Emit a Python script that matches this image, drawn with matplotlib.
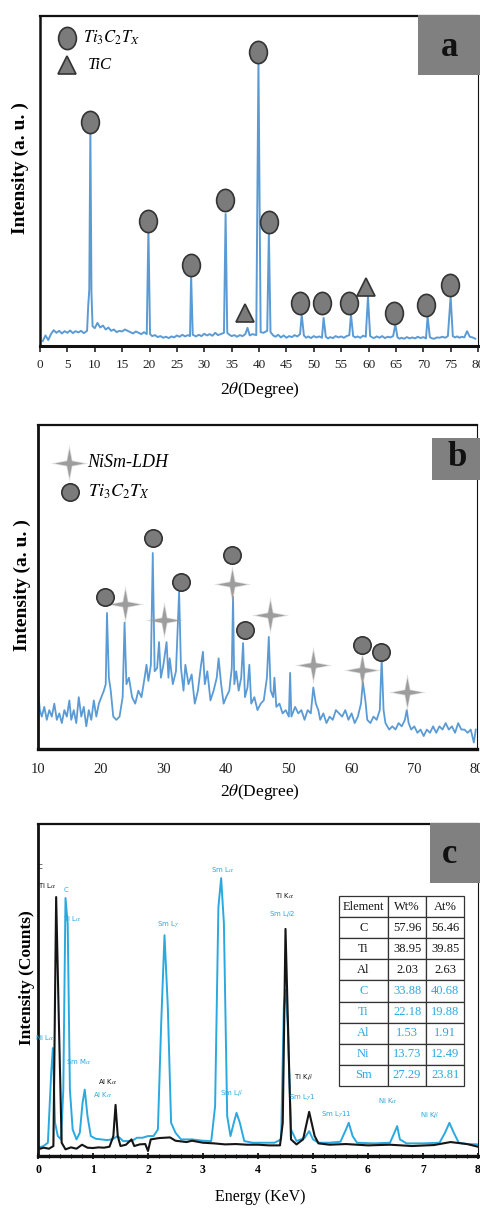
import matplotlib
matplotlib.use('Agg')
import matplotlib.pyplot as plt
from matplotlib.path import Path
from matplotlib.patches import Rectangle
from matplotlib.ticker import MultipleLocator

plt.rcParams['font.family'] = ['Liberation Serif', 'DejaVu Serif']
plt.rcParams['mathtext.fontset'] = 'stix'

# ---------------- data ----------------
# (a) XRD of Ti3C2Tx
a_theta = [0.5, 1.0, 1.5, 2.0, 2.5, 3.0, 3.5, 4.0, 4.5, 5.0, 5.5, 6.0, 6.5, 7.0, 7.5, 8.0, 8.6, 8.8, 9.0, 9.2,
           9.4, 9.6, 10.0, 10.5, 11.0, 11.5, 12.0, 12.5, 13.0, 13.5, 14.0, 14.5, 15.0, 15.5, 16.0, 16.5, 17.0,
           17.5, 18.0, 18.5, 19.0, 19.5, 19.8, 20.1, 20.5, 21.0, 21.5, 22.0, 22.5, 23.0, 23.5, 24.0, 24.5, 25.0,
           25.5, 26.0, 26.5, 27.0, 27.4, 27.6, 27.9, 28.5, 29.0, 29.5, 30.0, 30.5, 31.0, 31.5, 32.0, 32.5, 33.0,
           33.6, 33.9, 34.2, 34.6, 35.0, 35.5, 36.0, 36.5, 37.0, 37.5, 37.9, 38.3, 38.8, 39.5, 39.9, 40.3, 40.8,
           41.5, 41.8, 42.1, 42.6, 43.0, 43.5, 44.0, 44.5, 45.0, 45.5, 46.0, 46.5, 47.0, 47.5, 47.8, 48.2, 48.6,
           49.0, 49.5, 50.0, 50.5, 51.0, 51.5, 51.8, 52.2, 52.6, 53.0, 53.5, 54.0, 54.5, 55.0, 55.5, 56.0, 56.5,
           56.8, 57.2, 57.6, 58.0, 58.5, 59.0, 59.5, 59.9, 60.3, 60.7, 61.0, 61.5, 62.0, 62.5, 63.0, 63.5, 64.0,
           64.5, 64.9, 65.3, 65.7, 66.0, 66.5, 67.0, 67.5, 68.0, 68.5, 69.0, 69.5, 70.0, 70.5, 70.8, 71.2, 71.6,
           72.0, 72.5, 73.0, 73.5, 74.0, 74.5, 75.0, 75.4, 75.8, 76.2, 76.6, 77.0, 77.5, 78.0, 78.5, 79.0, 79.5]
a_intensity = [1.5, 3.2, 1.8, 3.6, 4.8, 4.0, 4.6, 3.8, 4.5, 4.0, 4.7, 3.9, 4.5, 4.1, 4.6, 3.9, 4.6, 12.0, 17.0, 65.5,
               16.0, 6.0, 5.4, 7.0, 5.6, 6.2, 5.0, 5.6, 4.6, 5.0, 4.2, 4.6, 4.4, 5.0, 4.6, 4.2, 3.8, 4.4, 4.0, 3.6,
               4.2, 3.6, 35.5, 3.6, 3.0, 3.3, 2.7, 3.0, 2.5, 2.8, 2.4, 2.9, 2.6, 3.2, 2.8, 3.4, 2.9, 3.3, 3.0, 21.5,
               3.4, 2.9, 3.4, 3.0, 3.7, 3.2, 3.6, 3.1, 4.0, 3.3, 3.6, 4.0, 40.0, 4.0, 3.4, 3.0, 3.3, 2.8, 3.3, 3.0,
               3.6, 5.5, 3.2, 3.6, 3.3, 86.0, 4.2, 4.0, 4.6, 34.5, 4.2, 3.2, 2.8, 3.4, 2.6, 3.2, 2.5, 3.0, 2.7, 3.3,
               2.9, 3.6, 9.5, 3.2, 2.5, 2.9, 2.4, 3.0, 2.6, 2.9, 2.5, 8.5, 2.8, 2.3, 2.7, 2.4, 3.0, 2.6, 2.9, 2.5,
               3.0, 3.3, 9.5, 3.0, 2.6, 2.9, 2.5, 3.1, 2.8, 15.0, 3.0, 2.6, 2.4, 2.9, 2.5, 3.0, 2.4, 2.8, 2.6, 3.0,
               6.5, 2.6, 2.2, 2.5, 2.2, 2.7, 2.3, 2.6, 2.3, 2.8, 2.4, 2.7, 2.3, 9.0, 2.7, 2.3, 2.2, 2.6, 2.5, 2.8,
               2.5, 3.0, 15.0, 3.0, 2.6, 2.9, 2.5, 2.8, 2.6, 4.5, 2.8, 2.6, 2.2]
a_circle_x = [9.1, 19.7, 27.6, 33.8, 39.8, 41.8, 47.4, 51.5, 56.4, 64.6, 70.5, 74.8]
a_circle_y = [68.0, 38.0, 24.5, 44.2, 89.0, 37.6, 13.0, 13.0, 13.0, 10.0, 12.4, 18.5]
a_tri_x = [37.5, 59.6]
a_tri_y = [10.0, 17.9]

# (b) XRD of NiSm-LDH / Ti3C2Tx
b_theta = [10.0, 10.3, 10.6, 11.0, 11.4, 11.8, 12.2, 12.6, 13.0, 13.4, 13.8, 14.2, 14.6, 15.0, 15.3, 15.7, 16.1,
           16.5, 16.9, 17.3, 17.7, 18.1, 18.5, 18.9, 19.3, 19.7, 20.1, 20.5, 20.8, 21.0, 21.3, 21.6, 22.0, 22.5,
           23.0, 23.5, 23.8, 24.1, 24.5, 25.0, 25.5, 26.0, 26.5, 27.0, 27.3, 27.6, 28.0, 28.3, 28.6, 29.0, 29.3,
           29.6, 30.0, 30.5, 30.8, 31.0, 31.5, 32.0, 32.5, 32.8, 33.2, 33.5, 34.0, 34.5, 35.0, 35.5, 36.0, 36.3,
           36.6, 37.0, 37.5, 38.0, 38.5, 38.8, 39.2, 39.6, 40.0, 40.5, 40.9, 41.1, 41.3, 41.6, 42.0, 42.4, 42.7,
           43.0, 43.4, 43.7, 44.0, 44.5, 45.0, 45.5, 46.0, 46.5, 46.8, 47.1, 47.5, 47.7, 48.0, 48.5, 49.0, 49.5,
           50.0, 50.2, 50.4, 51.0, 51.5, 52.0, 52.5, 53.0, 53.5, 53.9, 54.3, 54.7, 55.0, 55.5, 56.0, 56.5, 57.0,
           57.5, 58.0, 58.5, 59.0, 59.5, 60.0, 60.5, 61.0, 61.5, 61.8, 62.2, 62.5, 63.0, 63.5, 64.0, 64.5, 64.8,
           65.1, 65.4, 66.0, 66.5, 67.0, 67.5, 68.0, 68.5, 68.8, 69.1, 69.5, 70.0, 70.5, 71.0, 71.5, 72.0, 72.5,
           73.0, 73.5, 74.0, 74.5, 75.0, 75.5, 76.0, 76.5, 77.0, 77.5, 78.0, 78.5, 79.0, 79.5, 79.8]
b_intensity = [18.0, 12.0, 10.0, 13.0, 9.0, 12.0, 10.0, 14.0, 9.0, 11.0, 8.0, 12.0, 10.0, 15.0, 9.0, 12.0, 8.0,
               16.0, 10.0, 13.0, 7.0, 12.0, 9.0, 15.0, 10.0, 14.0, 16.0, 18.0, 20.0, 42.0, 22.0, 18.0, 10.0, 9.0,
               10.0, 16.0, 39.0, 20.0, 22.0, 16.0, 14.0, 18.0, 16.0, 22.0, 26.0, 21.0, 26.0, 60.5, 24.0, 25.0, 33.0,
               22.0, 26.0, 33.0, 22.0, 28.0, 20.0, 24.0, 48.5, 25.0, 18.0, 26.0, 20.0, 23.0, 14.0, 18.0, 26.0, 30.0,
               20.0, 24.0, 15.0, 18.0, 22.0, 28.0, 20.0, 14.0, 16.0, 18.0, 25.0, 47.0, 20.0, 24.0, 18.0, 22.0, 32.7,
               16.0, 19.0, 26.0, 14.0, 16.0, 12.0, 14.0, 15.0, 22.0, 34.6, 18.0, 16.0, 22.0, 13.0, 14.0, 11.0, 12.0,
               10.0, 23.5, 10.0, 13.0, 11.0, 12.0, 9.0, 12.0, 11.0, 19.0, 14.0, 12.0, 9.0, 11.0, 8.0, 10.0, 9.0,
               12.0, 11.0, 10.0, 12.0, 9.0, 11.0, 8.0, 10.0, 14.0, 20.7, 15.0, 9.0, 8.0, 10.0, 9.0, 12.0, 28.0,
               12.0, 8.0, 6.0, 7.0, 6.0, 8.0, 7.0, 9.0, 12.0, 8.0, 6.0, 7.0, 5.0, 6.0, 4.0, 6.0, 5.0,
               7.0, 5.0, 7.0, 6.0, 8.0, 6.0, 7.0, 5.0, 8.0, 6.0, 6.0, 5.0, 6.0, 2.0, 6.0]
b_circle_x = [20.7, 28.3, 32.8, 40.9, 43.0, 61.6, 64.7]
b_circle_y = [47.0, 65.0, 51.5, 60.0, 36.7, 32.0, 30.0]
b_star_x = [23.9, 30.1, 40.9, 47.0, 53.9, 61.6, 68.8]
b_star_y = [44.8, 39.8, 51.0, 41.4, 26.0, 24.4, 17.6]

# (c) EDS spectra
c_energy_black = [0.0, 0.1, 0.2, 0.28, 0.33, 0.38, 0.43, 0.5, 0.6, 0.7, 0.8, 0.9, 1.0, 1.1, 1.2, 1.3, 1.37, 1.41,
                  1.45, 1.5, 1.6, 1.7, 1.75, 1.85, 1.95, 2.0, 2.05, 2.2, 2.4, 2.5, 2.7, 2.8, 3.0, 3.2, 3.4, 3.6,
                  3.8, 4.0, 4.2, 4.4, 4.45, 4.5, 4.56, 4.6, 4.7, 4.82, 4.93, 5.03, 5.1, 5.3, 5.6, 6.0, 6.4, 6.8,
                  7.2, 7.5, 7.8, 8.0]
c_counts_black = [2.0, 2.5, 2.2, 3.0, 78.0, 40.0, 4.0, 2.0, 2.6, 2.2, 3.4, 2.5, 2.4, 2.6, 2.5, 2.8, 6.0, 15.4,
                  6.0, 3.0, 3.4, 5.0, 3.0, 3.5, 3.6, 1.5, 5.0, 5.4, 5.6, 4.6, 4.2, 4.6, 4.0, 3.8, 3.5, 3.6,
                  3.4, 3.4, 3.2, 3.2, 10.0, 68.4, 30.0, 5.0, 3.5, 5.0, 13.3, 6.0, 3.8, 3.4, 3.6, 3.2, 3.4, 3.0,
                  3.3, 4.2, 3.6, 2.8]
c_energy_cyan = [0.0, 0.1, 0.18, 0.24, 0.27, 0.31, 0.36, 0.42, 0.46, 0.5, 0.54, 0.58, 0.63, 0.7, 0.76, 0.81,
                 0.85, 0.9, 0.96, 1.05, 1.15, 1.25, 1.35, 1.45, 1.55, 1.7, 1.8, 1.9, 2.0, 2.1, 2.18, 2.24, 2.3,
                 2.36, 2.42, 2.5, 2.6, 2.8, 3.0, 3.15, 3.22, 3.28, 3.33, 3.38, 3.44, 3.5, 3.56, 3.61, 3.67, 3.75,
                 3.9, 4.1, 4.3, 4.42, 4.47, 4.5, 4.54, 4.6, 4.7, 4.85, 4.93, 5.0, 5.1, 5.3, 5.5, 5.6, 5.65, 5.72,
                 5.8, 6.1, 6.4, 6.48, 6.53, 6.58, 6.7, 7.0, 7.3, 7.4, 7.48, 7.56, 7.65, 7.8, 8.0]
c_counts_cyan = [2.5, 3.0, 4.0, 25.0, 32.5, 10.0, 6.0, 5.0, 20.0, 77.7, 70.0, 20.0, 8.0, 5.0, 7.0, 16.0,
                 20.0, 12.0, 6.0, 5.2, 5.0, 4.8, 5.0, 6.0, 4.5, 4.5, 5.5, 5.5, 6.0, 6.0, 8.0, 40.0, 66.5,
                 45.0, 10.0, 7.0, 5.0, 5.0, 4.6, 4.5, 15.0, 75.0, 83.7, 70.0, 12.0, 6.0, 10.0, 13.0, 10.0, 4.5,
                 4.0, 4.0, 4.0, 5.0, 45.0, 50.0, 40.0, 8.0, 4.5, 5.5, 7.5, 5.0, 4.0, 4.0, 4.3, 8.0, 10.0, 6.0,
                 4.0, 3.8, 4.0, 7.0, 9.0, 5.0, 3.8, 3.8, 4.0, 7.0, 10.0, 7.0, 4.0, 3.6, 3.5]

c_black_labels = ['C', r'Ti L$\alpha$', r'Al K$\alpha$', r'Ti K$\alpha$', r'Ti K$\beta$']
c_black_label_x = [0.0, 0.0, 1.27, 4.48, 4.82]
c_black_label_y = [87.0, 81.6, 22.3, 78.6, 23.8]
c_cyan_labels = ['C', r'Ti L$\alpha$', r'Ni L$\alpha$', r'Sm M$\alpha$', r'Al K$\alpha$', r'Sm L$\gamma$',
                 r'Sm L$\alpha$', r'Sm L$\beta$2', r'Sm L$\beta$', r'Sm L$\gamma$1', r'Sm L$\gamma$11',
                 r'Ni K$\alpha$', r'Ni K$\beta$']
c_cyan_label_x = [0.5, 0.62, 0.12, 0.74, 1.18, 2.36, 3.35, 4.44, 3.52, 4.80, 5.42, 6.36, 7.12]
c_cyan_label_y = [80.0, 71.4, 35.8, 28.6, 18.4, 69.9, 86.4, 72.9, 19.0, 17.8, 12.7, 16.6, 12.3]

table_cols = ['Element', 'Wt%', 'At%']
table_elements = ['C', 'Ti', 'Al', 'C', 'Ti', 'Al', 'Ni', 'Sm']
table_wt = ['57.96', '38.95', '2.03', '33.88', '22.18', '1.53', '13.73', '27.29']
table_at = ['56.46', '39.85', '2.63', '40.68', '19.88', '1.91', '12.49', '23.81']
table_n_black = 3

# ---------------- style ----------------
XRD_BLUE = '#5b9bd5'
EDS_CYAN = '#2aa9e0'
EDS_BLACK = '#151515'
MARK_FILL = '#7b7b7b'
MARK_EDGE = '#333333'
STAR_GRAY = '#9d9d9d'
BOX_GRAY = '#808080'

_circ = Path.unit_circle()
ELLIPSE = Path(_circ.vertices * [0.8, 1.0], _circ.codes)
STAR4 = Path([(0, 1), (0.16, 0.16), (1, 0), (0.16, -0.16), (0, -1), (-0.16, -0.16), (-1, 0), (-0.16, 0.16), (0, 1)],
             [Path.MOVETO] + [Path.LINETO] * 7 + [Path.CLOSEPOLY])


def px_axes(fig, left, top, right, bottom):
    W, H = 480.0, 1209.0
    return fig.add_axes([left / W, 1 - bottom / H, (right - left) / W, (bottom - top) / H])


def frame(ax, lw_main=1.8):
    ax.spines['left'].set_linewidth(lw_main)
    ax.spines['bottom'].set_linewidth(lw_main + 0.4)
    ax.spines['top'].set_linewidth(1.6)
    ax.spines['right'].set_linewidth(0.8)
    for s in ax.spines.values():
        s.set_color('#111111')
    ax.set_yticks([])


def panel_box(ax, x0, y0, w, h, letter, tx, ty):
    ax.add_patch(Rectangle((x0, y0), w, h, transform=ax.transAxes, facecolor=BOX_GRAY,
                           edgecolor='none', clip_on=False, zorder=6))
    ax.text(tx, ty, letter, transform=ax.transAxes, ha='center', va='center', fontsize=25,
            fontweight='bold', color='#111111', zorder=7)


fig = plt.figure(figsize=(4.8, 12.09), dpi=100)
fig.patch.set_facecolor('white')

# ---------------- panel a ----------------
ax = px_axes(fig, 40, 16, 478, 346)
ax.plot(a_theta, a_intensity, color=XRD_BLUE, lw=1.4, zorder=2)
ax.plot(a_circle_x, a_circle_y, ls='none', marker=ELLIPSE, ms=16, mfc=MARK_FILL, mec=MARK_EDGE, mew=1.2, zorder=4)
ax.plot(a_tri_x, a_tri_y, ls='none', marker='^', ms=13, mfc=MARK_FILL, mec=MARK_EDGE, mew=1.2, zorder=4)
ax.set_xlim(0, 80)
ax.set_ylim(0, 100)
ax.xaxis.set_major_locator(MultipleLocator(5))
ax.tick_params(axis='x', direction='out', length=4, width=1.2, labelsize=9.5, pad=5, colors='#222222')
frame(ax)
ax.set_xlabel(r'2$\theta$(Degree)', fontsize=12.5)
ax.xaxis.set_label_coords(0.502, -0.133)
ax.xaxis.label.set_va('center')
ax.set_ylabel('Intensity (a. u. )', fontsize=14, fontweight='bold')
ax.yaxis.set_label_coords(-0.046, 0.539)
ax.yaxis.label.set_va('center')
# legend
ax.plot([0.062], [0.933], transform=ax.transAxes, marker=ELLIPSE, ms=16, mfc=MARK_FILL, mec=MARK_EDGE,
        mew=1.2, clip_on=False)
ax.text(0.098, 0.933, r'$Ti_3C_2T_X$', transform=ax.transAxes, va='center', fontsize=12)
ax.plot([0.062], [0.852], transform=ax.transAxes, marker='^', ms=13, mfc=MARK_FILL, mec=MARK_EDGE,
        mew=1.2, clip_on=False)
ax.text(0.11, 0.852, 'TiC', transform=ax.transAxes, va='center', fontsize=12, style='italic')
panel_box(ax, 0.863, 0.821, 0.145, 0.183, 'a', 0.934, 0.906)

# ---------------- panel b ----------------
ax = px_axes(fig, 38, 425, 477, 749)
ax.plot(b_theta, b_intensity, color=XRD_BLUE, lw=1.3, zorder=2)
ax.plot(b_star_x, b_star_y, ls='none', marker=STAR4, ms=27, mfc=STAR_GRAY, mec='none', alpha=0.35, zorder=3)
ax.plot(b_star_x, b_star_y, ls='none', marker=STAR4, ms=21, mfc=STAR_GRAY, mec='none', zorder=3)
ax.plot(b_circle_x, b_circle_y, ls='none', marker='o', ms=12.5, mfc=MARK_FILL, mec=MARK_EDGE, mew=1.2, zorder=4)
ax.set_xlim(10, 80)
ax.set_ylim(0, 100)
ax.xaxis.set_major_locator(MultipleLocator(10))
ax.tick_params(axis='x', direction='out', length=0, labelsize=10.5, pad=10, colors='#222222')
frame(ax, 2.0)
ax.set_xlabel(r'2$\theta$(Degree)', fontsize=12.5)
ax.xaxis.set_label_coords(0.506, -0.134)
ax.xaxis.label.set_va('center')
ax.set_ylabel('Intensity (a. u. )', fontsize=14, fontweight='bold')
ax.yaxis.set_label_coords(-0.036, 0.506)
ax.yaxis.label.set_va('center')
ax.plot([0.071], [0.883], transform=ax.transAxes, marker=STAR4, ms=27, mfc=STAR_GRAY, mec='none', alpha=0.35)
ax.plot([0.071], [0.883], transform=ax.transAxes, marker=STAR4, ms=21, mfc=STAR_GRAY, mec='none')
ax.text(0.112, 0.883, 'NiSm-LDH', transform=ax.transAxes, va='center', fontsize=13, style='italic')
ax.plot([0.073], [0.793], transform=ax.transAxes, marker='o', ms=12.5, mfc=MARK_FILL, mec=MARK_EDGE, mew=1.2)
ax.text(0.114, 0.793, r'$Ti_3C_2T_X$', transform=ax.transAxes, va='center', fontsize=13)
panel_box(ax, 0.897, 0.83, 0.11, 0.13, 'b', 0.954, 0.901)

# ---------------- panel c ----------------
ax = px_axes(fig, 38, 824, 478, 1156)
ax.plot(c_energy_cyan, c_counts_cyan, color=EDS_CYAN, lw=1.4, zorder=2)
ax.plot(c_energy_black, c_counts_black, color=EDS_BLACK, lw=1.5, zorder=3)
for t, x, y in zip(c_black_labels, c_black_label_x, c_black_label_y):
    ax.text(x, y, t, fontsize=5, color=EDS_BLACK, family='DejaVu Sans', ha='left' if x < 0.1 else 'center',
            va='center')
for t, x, y in zip(c_cyan_labels, c_cyan_label_x, c_cyan_label_y):
    ax.text(x, y, t, fontsize=5, color=EDS_CYAN, family='DejaVu Sans', ha='center', va='center')
ax.set_xlim(0, 8)
ax.set_ylim(0, 100)
ax.xaxis.set_major_locator(MultipleLocator(1))
ax.xaxis.set_minor_locator(MultipleLocator(0.2))
ax.tick_params(axis='x', which='major', direction='inout', length=5, width=1.2, labelsize=8.5, pad=3)
ax.tick_params(axis='x', which='minor', direction='inout', length=3, width=0.8)
for lab in ax.get_xticklabels():
    lab.set_fontweight('bold')
frame(ax, 2.0)
ax.set_xlabel('Energy (KeV)', fontsize=11.5)
ax.xaxis.set_label_coords(0.505, -0.123)
ax.xaxis.label.set_va('center')
ax.set_ylabel('Intensity (Counts)', fontsize=12.5, fontweight='bold')
ax.yaxis.set_label_coords(-0.025, 0.536)
ax.yaxis.label.set_va('center')

cells = [[e, w, a] for e, w, a in zip(table_elements, table_wt, table_at)]
tbl = ax.table(cellText=cells, colLabels=table_cols, cellLoc='center', colWidths=[0.39, 0.31, 0.30],
               bbox=[0.684, 0.211, 0.284, 0.572])
tbl.auto_set_font_size(False)
tbl.set_fontsize(9)
tbl.set_zorder(5)
for (r, c), cell in tbl.get_celld().items():
    cell.set_edgecolor('#333333')
    cell.set_linewidth(0.9)
    cell.set_facecolor('white')
    col = EDS_BLACK if r <= table_n_black else EDS_CYAN
    cell.get_text().set_color(col)
panel_box(ax, 0.89, 0.822, 0.115, 0.181, 'c', 0.936, 0.907)

fig.savefig('out.png', dpi=100)
